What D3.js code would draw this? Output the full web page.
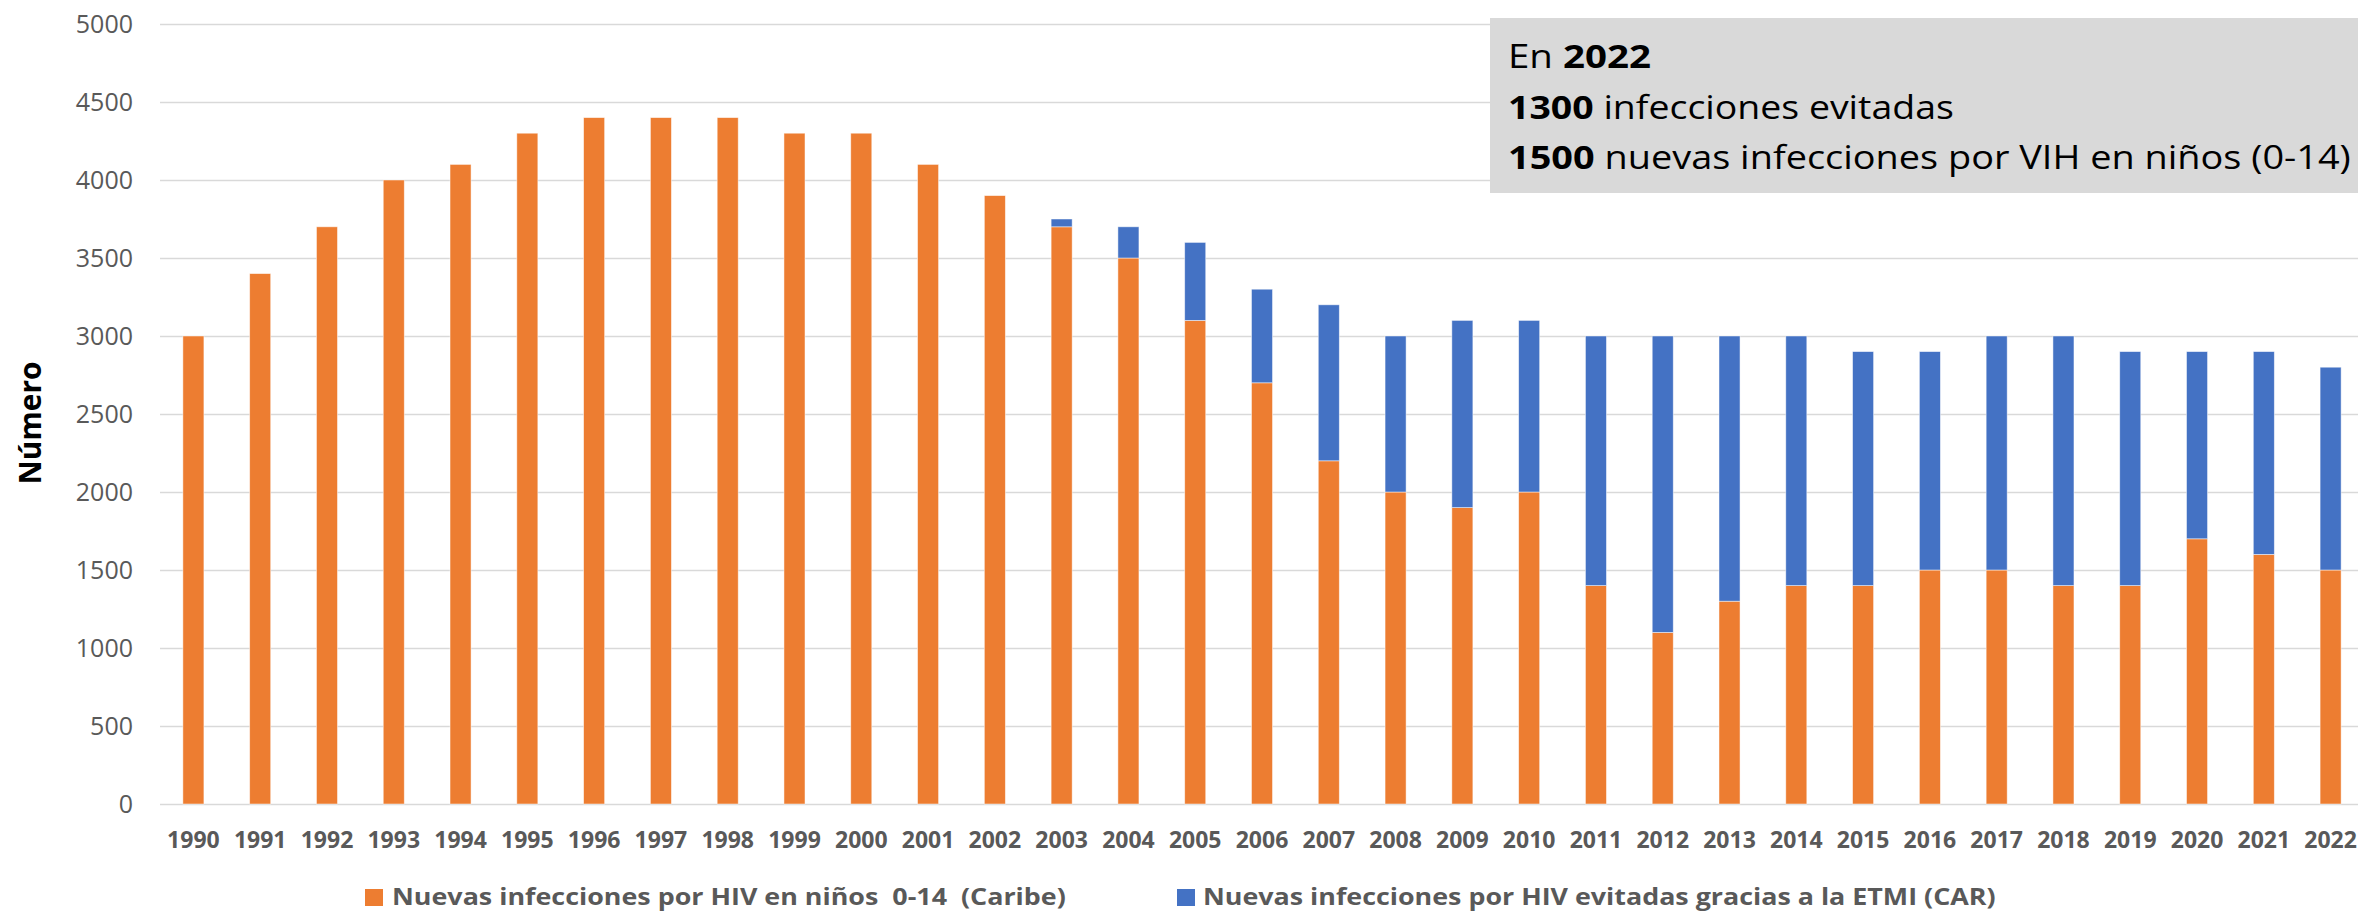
<!DOCTYPE html>
<html>
<head>
<meta charset="utf-8">
<script src="https://cdn.jsdelivr.net/npm/d3@7"></script>
<style>
  html, body { margin: 0; padding: 0; background: #ffffff; }
  svg { display: block; }
</style>
</head>
<body>
<svg id="chart" width="2358" height="912"></svg>
<script>
// ---- Data ----
const years = ["1990","1991","1992","1993","1994","1995","1996","1997","1998","1999","2000","2001","2002","2003","2004","2005","2006","2007","2008","2009","2010","2011","2012","2013","2014","2015","2016","2017","2018","2019","2020","2021","2022"];
const nuevasCaribe = [3000,3400,3700,4000,4100,4300,4400,4400,4400,4300,4300,4100,3900,3700,3500,3100,2700,2200,2000,1900,2000,1400,1100,1300,1400,1400,1500,1500,1400,1400,1700,1600,1500];
const evitadasETMI = [0,0,0,0,0,0,0,0,0,0,0,0,0,50,200,500,600,1000,1000,1200,1100,1600,1900,1700,1600,1500,1400,1500,1600,1500,1200,1300,1300];
const yTicks = [0,500,1000,1500,2000,2500,3000,3500,4000,4500,5000];
const seriesNames = ["Nuevas infecciones por HIV en niños  0-14  (Caribe)", "Nuevas infecciones por HIV evitadas gracias a la ETMI (CAR)"];
const seriesColors = ["#ED7D31", "#4472C4"];
const yTitle = "Número";
const noteLines = [
  [{t:"En ", b:false},{t:"2022", b:true}],
  [{t:"1300", b:true},{t:" infecciones evitadas", b:false}],
  [{t:"1500", b:true},{t:" nuevas infecciones por VIH en niños (0-14)", b:false}]
];

// ---- Layout ----
const W = 2358, H = 912;
const mLeft = 160, plotRight = 2364, mTop = 24, mBottom = 804;
const svg = d3.select("#chart");
svg.append("rect").attr("width", W).attr("height", H).attr("fill", "#fff");

const x = d3.scaleBand().domain(years).range([mLeft, plotRight])
  .paddingInner(0.685).paddingOuter(0.685/2);
const y = d3.scaleLinear().domain([0, 5000]).range([mBottom, mTop]);

const FONT = "'Open Sans', 'DejaVu Sans', sans-serif";
const gray = "#595959";

// helper: horizontally fit a text element to a target width (anchored at its start x)
function fitWidth(sel, targetW, anchorX) {
  const w = sel.node().getComputedTextLength();
  const s = targetW / w;
  sel.attr("transform", `translate(${anchorX},0) scale(${s},1) translate(${-anchorX},0)`);
}

// Y axis with gridlines
const yAxis = d3.axisLeft(y).tickValues(yTicks).tickSize(-(W - mLeft)).tickPadding(27).tickFormat(d3.format("d"));
const gy = svg.append("g").attr("transform", `translate(${mLeft},0)`).call(yAxis);
gy.select(".domain").remove();
gy.selectAll(".tick line").attr("stroke", "#d9d9d9").attr("stroke-width", 1.6);
gy.selectAll(".tick text").attr("font-family", FONT).attr("font-size", 25).attr("fill", gray);

// Stacked bars
const table = years.map((yr, i) => ({year: yr, nuevas: nuevasCaribe[i], evitadas: evitadasETMI[i]}));
const stacked = d3.stack().keys(["nuevas", "evitadas"])(table);
svg.append("g").selectAll("g").data(stacked).join("g")
  .attr("fill", (d, i) => seriesColors[i])
  .selectAll("rect").data(d => d.filter(p => p[1] - p[0] > 0)).join("rect")
  .attr("x", d => x(d.data.year))
  .attr("width", x.bandwidth())
  .attr("y", d => y(d[1]))
  .attr("height", d => y(d[0]) - y(d[1]))
  .attr("stroke", "#ffffff").attr("stroke-width", 0.8).attr("stroke-opacity", 0.6);

// X axis labels
const xAxis = d3.axisBottom(x).tickSize(0).tickPadding(28);
const gx = svg.append("g").attr("transform", `translate(0,${mBottom})`).call(xAxis);
gx.select(".domain").remove();
gx.selectAll(".tick text").attr("font-family", FONT).attr("font-size", 23).attr("font-weight", "bold").attr("fill", gray);

// Y title
svg.append("text")
  .attr("transform", "translate(41,423) rotate(-90)")
  .attr("text-anchor", "middle")
  .attr("font-family", FONT).attr("font-size", 31).attr("font-weight", "bold").attr("fill", "#000")
  .attr("textLength", 123).attr("lengthAdjust", "spacingAndGlyphs")
  .text(yTitle);

// Annotation box
svg.append("rect").attr("x", 1490).attr("y", 18).attr("width", W - 1490).attr("height", 175).attr("fill", "#d9d9d9");
const noteBaselines = [68, 119, 169];
const noteWidths = [143, 446, 843];
noteLines.forEach((parts, i) => {
  const t = svg.append("text").attr("x", 1508).attr("y", noteBaselines[i])
    .attr("font-family", FONT).attr("font-size", 32).attr("fill", "#000")
    .attr("xml:space", "preserve");
  parts.forEach(p => t.append("tspan").attr("font-weight", p.b ? "bold" : "normal").text(p.t));
  fitWidth(t, noteWidths[i], 1508);
});

// Legend
const legendItems = [
  {sx: 365, tx: 392, w: 674},
  {sx: 1177, tx: 1203, w: 793}
];
legendItems.forEach((it, i) => {
  svg.append("rect").attr("x", it.sx).attr("y", 889).attr("width", 18).attr("height", 17).attr("fill", seriesColors[i]);
  const t = svg.append("text").attr("x", it.tx).attr("y", 905)
    .attr("font-family", FONT).attr("font-size", 23.5).attr("font-weight", "bold").attr("fill", gray)
    .attr("xml:space", "preserve")
    .text(seriesNames[i]);
  fitWidth(t, it.w, it.tx);
});
</script>
</body>
</html>
